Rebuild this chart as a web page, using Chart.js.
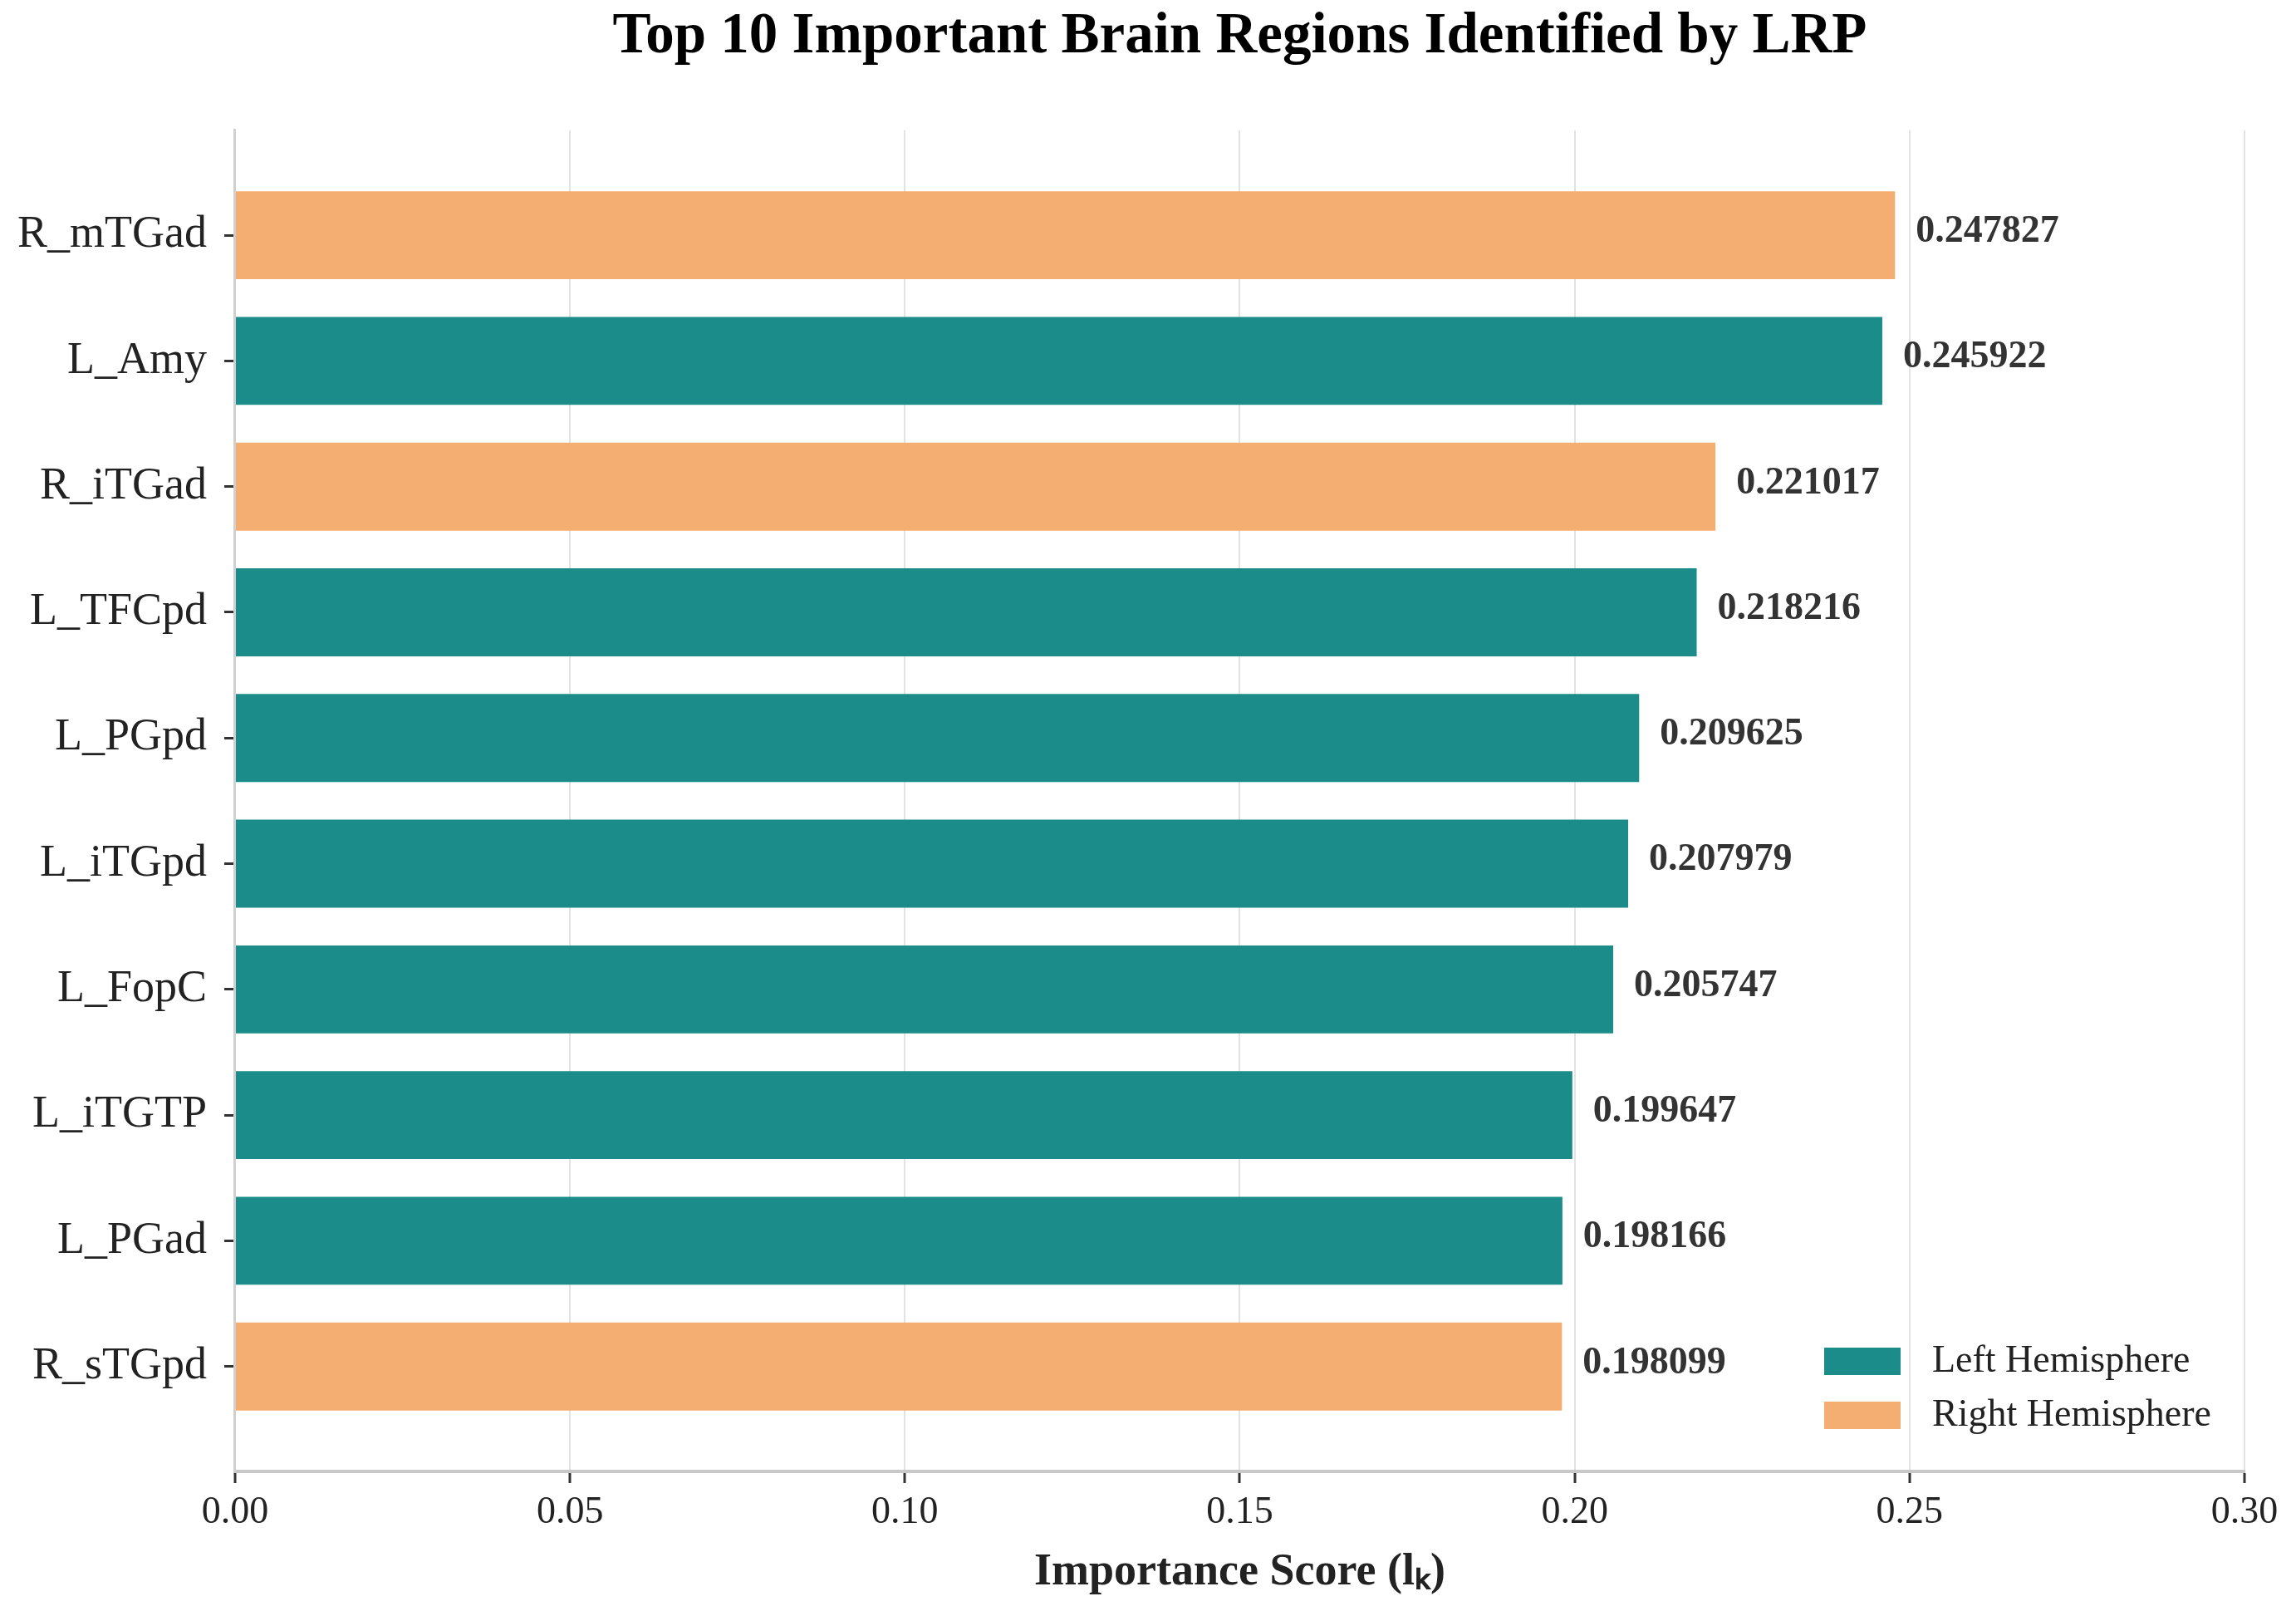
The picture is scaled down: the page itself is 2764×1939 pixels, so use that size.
<!DOCTYPE html>
<html>
<head>
<meta charset="utf-8">
<title>Top 10 Important Brain Regions Identified by LRP</title>
<script src="https://cdn.jsdelivr.net/npm/chart.js@4.4.1/dist/chart.umd.min.js"></script>
<style>
  html, body { margin: 0; padding: 0; background: #fff; }
  #chartBox { width: 100vw; height: 100vh; }
</style>
</head>
<body>
<div id="chartBox"><canvas id="lrp_chart"></canvas></div>
<script>
// region names, top to bottom
var regions = ["R_mTGad", "L_Amy", "R_iTGad", "L_TFCpd", "L_PGpd",
               "L_iTGpd", "L_FopC", "L_iTGTP", "L_PGad", "R_sTGpd"];
var scores = [0.247827, 0.245922, 0.221017, 0.218216, 0.209625,
              0.207979, 0.205747, 0.199647, 0.198166, 0.198099];
var hemispheres = ["R", "L", "R", "L", "L", "L", "L", "L", "L", "R"];
var xTicks = [0.00, 0.05, 0.10, 0.15, 0.20, 0.25, 0.30];

var hemiNames = { L: "Left Hemisphere", R: "Right Hemisphere" };
var hemiColors = { L: "#1b8c8a", R: "#f4ae71" };

var serif = "'Liberation Serif', 'Times New Roman', serif";

var points = [];
scores.forEach(function (v, i) { points.push({ x: v, y: i }); });

var barColors = hemispheres.map(function (h) { return hemiColors[h]; });

// numbers printed at the end of each bar
var valueLabels = {
  id: 'valueLabels',
  afterDatasetsDraw: function (chart) {
    var ctx = chart.ctx;
    var meta = chart.getDatasetMeta(0);
    ctx.save();
    ctx.font = "bold 46px " + serif;
    ctx.fillStyle = "#333";
    ctx.textAlign = "left";
    ctx.textBaseline = "middle";
    meta.data.forEach(function (bar, i) {
      ctx.fillText(scores[i].toFixed(6), bar.x + 25, bar.y - 4);
    });
    ctx.restore();
  }
};

// legend box in the lower right corner of the plot
var cornerLegend = {
  id: 'cornerLegend',
  afterDraw: function (chart) {
    var ctx = chart.ctx;
    var area = chart.chartArea;
    var keys = ["L", "R"];
    ctx.save();
    ctx.font = "46px " + serif;
    ctx.textBaseline = "middle";
    keys.forEach(function (k, i) {
      var cy = area.bottom - 132 + i * 65;
      ctx.fillStyle = hemiColors[k];
      ctx.fillRect(area.right - 506, cy - 17, 92, 33);
      ctx.fillStyle = "#222";
      ctx.fillText(hemiNames[k], area.right - 376, cy);
    });
    ctx.restore();
  }
};

var ctx = document.getElementById('lrp_chart').getContext('2d');

var chartInstance = new Chart(ctx, {
  type: 'bar',
  data: {
    datasets: [{
      data: points,
      backgroundColor: barColors,
      borderWidth: 0,
      barPercentage: 0.7,
      categoryPercentage: 1.0
    }]
  },
  options: {
    indexAxis: 'y',
    responsive: true,
    maintainAspectRatio: false,
    animation: false,
    layout: { padding: { left: 0, right: 62, top: 0, bottom: 14 } },
    plugins: {
      legend: { display: false },
      tooltip: { enabled: false },
      title: {
        display: true,
        fullSize: false,
        text: "Top 10 Important Brain Regions Identified by LRP",
        color: "#000",
        font: { family: serif, size: 69, weight: 'bold' },
        padding: { top: 4, bottom: 70 }
      }
    },
    scales: {
      x: {
        type: 'linear',
        min: 0,
        max: 0.3,
        afterBuildTicks: function (axis) {
          axis.ticks = xTicks.map(function (v) { return { value: v }; });
        },
        ticks: {
          color: "#222",
          font: { family: serif, size: 46 },
          padding: 8,
          callback: function (v) { return Number(v).toFixed(2); }
        },
        grid: {
          color: "#e3e3e3",
          lineWidth: 2,
          tickColor: "#333",
          tickWidth: 3,
          tickLength: 14
        },
        border: { color: "#c8c8c8", width: 4 },
        title: {
          display: true,
          text: "Importance Score (lₖ)",
          color: "#222",
          font: { family: serif, size: 54, weight: 'bold' },
          padding: { top: 4, bottom: 0 }
        }
      },
      y: {
        type: 'linear',
        reverse: true,
        offset: false,
        min: -0.835,
        max: 9.835,
        afterBuildTicks: function (axis) {
          axis.ticks = regions.map(function (r, i) { return { value: i }; });
        },
        ticks: {
          color: "#222",
          font: { family: serif, size: 54 },
          padding: 21,
          callback: function (v) { return regions[v]; }
        },
        grid: {
          offset: false,
          drawOnChartArea: false,
          tickColor: "#333",
          tickWidth: 3,
          tickLength: 13
        },
        border: { color: "#d0d0d0", width: 3 }
      }
    }
  },
  plugins: [valueLabels, cornerLegend]
});
</script>
</body>
</html>
